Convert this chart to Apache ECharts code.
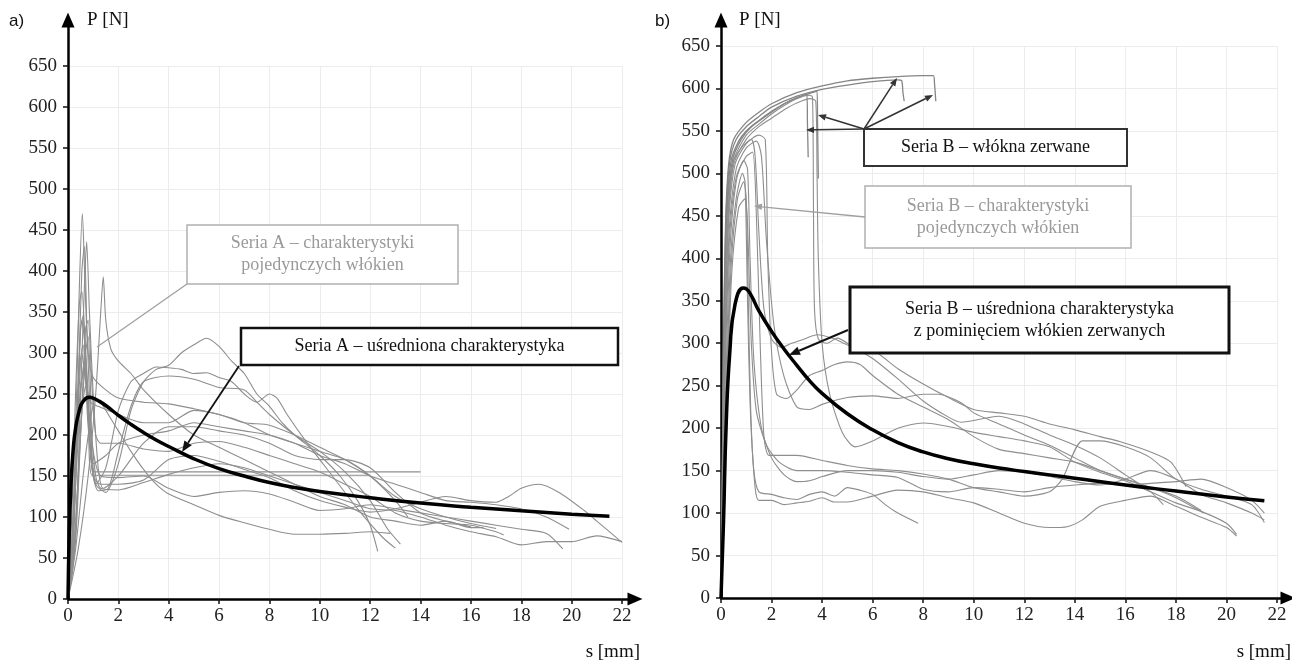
<!DOCTYPE html>
<html>
<head>
<meta charset="utf-8">
<script src="https://cdn.jsdelivr.net/npm/echarts@6/dist/echarts.min.js"></script>
<style>
  html, body { margin: 0; padding: 0; background: #fff; }
  #chart { width: 1292px; height: 663px; }
</style>
</head>
<body>
<div id="chart"></div>
<script>
// ticks
const xTicks = [0, 2, 4, 6, 8, 10, 12, 14, 16, 18, 20, 22];
const yTicks = [0, 50, 100, 150, 200, 250, 300, 350, 400, 450, 500, 550, 600, 650];

// ---- seria A: single fibres [s mm, P N]
const fibreA1 = [[0,0],[0.15,60],[0.3,200],[0.45,380],[0.57,470],[0.68,380],[0.8,300],[1.0,270],[1.5,255],[2,245],[3,240],[4,238],[5,232],[6,225],[7,215],[8,212],[9,200],[10,185],[11,170],[12,150],[13,125],[14,110],[15,100],[16,92],[17,86]];
const fibreA2 = [[0,0],[0.2,50],[0.4,250],[0.55,400],[0.65,430],[0.75,330],[0.9,220],[1.1,150],[1.3,135],[2,133],[3,142],[4,152],[5,160],[6,165],[7,160],[8,150],[9,140],[10,130],[11,120],[12,110],[13,108],[14,100],[15,90],[16,82],[17,76],[18,66],[19,70],[20,70],[21,77],[22,70]];
const fibreA3 = [[0,0],[0.3,80],[0.5,250],[0.65,380],[0.74,436],[0.85,350],[1.0,250],[1.2,160],[1.4,135],[2,150],[3,190],[4,210],[5,210],[6,205],[7,200],[8,190],[9,175],[10,170],[11,170],[12,160],[13,130],[14,105],[15,95],[16,88]];
const fibreA4 = [[0,0],[0.4,60],[0.8,150],[1.1,250],[1.3,350],[1.4,393],[1.5,340],[1.7,305],[2,290],[2.5,275],[3,255],[4,225],[5,200],[6,185],[7,170],[8,155],[9,140],[10,125],[11,115],[12,100],[13,95],[14,90],[15,95],[16,87],[16.5,87]];
const fibreA5 = [[0,0],[0.2,100],[0.4,260],[0.55,340],[0.7,300],[0.9,200],[1.1,140],[1.5,130],[2,165],[2.5,230],[3,265],[3.5,280],[4,285],[4.5,300],[5,310],[5.5,318],[6,308],[6.5,290],[7,275],[7.5,250],[8,235],[8.5,215],[9,200],[10,175],[10.8,150],[11.5,120],[12,90],[12.3,58]];
const fibreA6 = [[0,0],[0.15,100],[0.3,250],[0.45,360],[0.55,375],[0.7,300],[0.9,180],[1.1,140],[1.5,160],[2,230],[2.5,265],[3,275],[3.5,283],[4,282],[4.5,280],[5,275],[5.5,276],[6,270],[6.5,265],[7,250],[7.5,240],[8,250],[8.3,245],[8.7,225],[9.5,190],[10.5,150],[11.5,110],[12.5,75],[13,62]];
const fibreA7 = [[0,0],[0.2,70],[0.35,200],[0.5,330],[0.6,345],[0.75,250],[0.95,160],[1.2,132],[1.6,135],[2,180],[2.5,235],[3,265],[4,272],[5,268],[6,258],[7,255],[7.5,240],[8,225],[9,200],[10,180],[11,155],[12,120],[12.7,85],[13.2,67]];
const fibreA8 = [[0,0],[0.3,90],[0.5,200],[0.7,300],[0.8,320],[0.9,250],[1.0,155],[2,155],[4,155],[6,155],[8,155],[10,155],[12,155],[14,155]];
const fibreA9 = [[0,0],[0.2,80],[0.5,250],[0.65,290],[0.8,230],[0.95,151],[3,151],[6,151],[9,151],[12,151]];
const fibreA10 = [[0,0],[0.3,60],[0.6,150],[0.9,220],[1.1,245],[1.3,240],[1.6,225],[2,205],[2.5,180],[3,158],[3.5,140],[4,128],[5,115],[6,102],[7,93],[8,85],[9,79],[10,79],[11,80],[12,82],[12.8,80]];
const fibreA11 = [[0,0],[0.25,120],[0.45,280],[0.6,310],[0.75,250],[1.0,180],[1.3,150],[2,148],[3,150],[4,135],[5,125],[6,130],[7,132],[8,128],[9,118],[10,108],[11,110],[12,115],[13,110],[14,105],[15,100],[16,95],[17,90],[18,85],[19,80],[19.65,61]];
const fibreA12 = [[0,0],[0.2,40],[0.4,150],[0.55,230],[0.7,260],[0.85,200],[1.0,150],[1.3,140],[2,140],[3,145],[4,170],[5,175],[6,168],[7,158],[8,148],[9,132],[10,120],[11,112],[12,106],[13,110],[14,118],[15,125],[16,120],[17,118],[17.5,125],[18,135],[18.7,140],[19.5,130],[20.5,108],[21,95],[22,69]];
const fibreA13 = [[0,0],[0.15,50],[0.35,180],[0.5,260],[0.65,280],[0.8,210],[1.0,165],[1.5,175],[2,190],[3,200],[4,205],[5,215],[6,210],[7,205],[8,200],[9,190],[10,175],[11,165],[12,150],[13,140],[14,130],[15,120],[16,118],[17,115],[18,110],[19,100],[19.9,85]];
const fibreA14 = [[0,0],[0.3,70],[0.5,200],[0.7,330],[0.8,340],[0.95,260],[1.1,200],[1.3,190],[2,190],[3,183],[4,180],[5,190],[6,192],[7,185],[8,175],[9,165],[10,155],[11,140],[12,125],[13,105],[14,95],[15,92],[16,90],[17,82],[17.3,78]];
const fibreA15 = [[0,0],[0.2,90],[0.4,230],[0.55,300],[0.7,265],[0.9,240],[1.2,235],[2,225],[3,215],[4,215],[5,230],[6,225],[7,215],[8,200],[9,190],[10,180],[11,170],[12,150],[13,120],[13.5,100]];
const averageA = [[0,0],[0.05,80],[0.12,140],[0.2,180],[0.3,208],[0.45,230],[0.6,241],[0.85,246],[1.0,245],[1.25,241],[1.5,236],[2,224],[2.5,213],[3,203],[3.5,194],[4,186],[5,171],[6,159],[7,150],[8,142],[9,136],[10,131],[12,123.5],[14,117],[16,112],[18,107.5],[20,103.5],[21.5,101]];

// ---- seria B: broken fibres
const brokenB1 = [[0,0],[0.05,140],[0.1,300],[0.18,440],[0.3,510],[0.5,540],[1,560],[1.5,572],[2,582],[3,595],[4,603],[5,609],[6,612],[7,614],[8,615],[8.4,615],[8.45,605],[8.5,585]];
const brokenB2 = [[0,0],[0.05,130],[0.1,290],[0.2,450],[0.35,515],[0.6,540],[1,555],[1.5,567],[2,578],[3,591],[4,599],[5,604],[6,608],[7,610],[7.15,609],[7.2,595],[7.25,585]];
const brokenB3 = [[0,0],[0.05,120],[0.12,300],[0.22,450],[0.4,515],[0.7,538],[1,550],[1.5,562],[2,573],[2.5,582],[3,589],[3.4,593],[3.42,560],[3.45,519]];
const brokenB4 = [[0,0],[0.06,130],[0.13,300],[0.24,450],[0.45,515],[0.8,540],[1.2,555],[1.8,568],[2.5,582],[3,589],[3.5,594],[3.8,597],[3.82,560],[3.85,494]];

// ---- seria B: single fibres
const fibreB1 = [[0,0],[0.06,120],[0.14,300],[0.25,440],[0.45,510],[0.8,530],[1.2,540],[1.35,520],[1.5,430],[1.7,340],[2,305],[2.4,295],[2.8,300],[3.3,305],[3.8,310],[4.5,305],[5,298],[6,292],[7,270],[8,252],[9,236],[10,222],[11,218],[12,214],[13,205],[14,198],[15,190],[15.8,184],[17,172],[17.8,160],[18.4,131]];
const fibreB2 = [[0,0],[0.06,120],[0.14,290],[0.26,440],[0.5,515],[1,545],[1.5,558],[2,570],[2.5,580],[3,588],[3.5,592],[3.62,590],[3.66,450],[3.7,340],[3.85,305],[4.2,300],[4.6,306],[5.2,296],[6,282],[7,258],[8,232],[9,213],[9.5,207],[10.5,212],[11,214],[12,205],[13,192],[14,180],[15,165],[16,145],[17,125],[17.5,110]];
const fibreB3 = [[0,0],[0.07,120],[0.15,290],[0.28,440],[0.5,510],[1,540],[1.5,555],[2,565],[2.5,575],[3,583],[3.55,588],[3.75,585],[3.8,500],[3.85,400],[4,300],[4.3,240],[4.8,195],[5.3,178],[6,185],[7,200],[8,206],[9,202],[10,195],[11,190],[12,185],[13,178],[14,160],[15,148],[16,138],[17,125],[18,112],[19,102],[20,88],[20.4,75]];
const fibreB4 = [[0,0],[0.07,110],[0.15,280],[0.3,440],[0.55,510],[1,535],[1.5,545],[1.75,540],[1.85,400],[2,290],[2.2,240],[2.6,235],[3,245],[3.5,262],[4,268],[4.5,275],[5,278],[5.5,275],[6,262],[7,240],[8,225],[9,210],[10,190],[11,175],[12,170],[13,165],[14,160],[15,150],[16,140],[17,130],[18,120],[19,103]];
const fibreB5 = [[0,0],[0.08,110],[0.17,280],[0.32,430],[0.6,505],[1,530],[1.4,538],[1.6,520],[1.8,420],[2.1,320],[2.5,260],[3,225],[3.5,222],[4,228],[5,236],[6,238],[7,235],[8,240],[8.6,240],[9.5,230],[10,218],[11,205],[12,192],[13,180],[14,165],[15,150],[16,140],[17,130],[18,118],[19.1,100]];
const fibreB6 = [[0,0],[0.08,110],[0.17,270],[0.33,420],[0.6,495],[1,520],[1.25,525],[1.4,450],[1.55,300],[1.7,190],[1.9,168],[2.5,168],[3,168],[4,162],[5,156],[6,152],[7,150],[8,146],[9,140],[10,130],[11,125],[12,120],[13,125],[13.5,140],[14.3,185],[15,185],[16,178],[17,165],[18,140],[19,128],[20,120],[21,110],[21.5,89]];
const fibreB7 = [[0,0],[0.1,100],[0.2,260],[0.35,410],[0.6,490],[0.9,515],[1.05,505],[1.15,400],[1.3,280],[1.6,200],[2,165],[2.5,145],[3,137],[3.5,138],[4,143],[5,150],[6,150],[7,148],[8,143],[9,140],[10,145],[11,150],[12,148],[13,143],[14,137],[15,133],[16,140],[17,150],[18,140],[19,122],[20,112],[21,100],[21.5,92]];
const fibreB8 = [[0,0],[0.1,100],[0.22,250],[0.38,400],[0.6,470],[0.85,500],[0.95,490],[1.05,350],[1.15,230],[1.3,150],[1.5,125],[2,122],[2.5,118],[3,116],[3.5,122],[4,125],[4.5,120],[5,130],[5.5,127],[6,122],[6.5,110],[7,100],[7.8,88]];
const fibreB9 = [[0,0],[0.1,90],[0.23,240],[0.4,390],[0.65,470],[0.9,490],[1.0,470],[1.1,320],[1.2,200],[1.35,130],[1.5,115],[2,115],[2.5,110],[3,112],[3.5,114],[4,118],[4.5,113],[5,113],[6,120],[7,127],[8,125],[9,118],[10,112],[11,100],[12,88],[13,83],[13.7,84],[14.3,92],[15,108],[16,115],[17,120],[18,108],[19,95],[20,83],[20.4,73]];
const fibreB10 = [[0,0],[0.12,90],[0.25,230],[0.42,380],[0.7,460],[0.95,470],[1.05,440],[1.2,300],[1.4,220],[1.8,180],[2.3,160],[3,150],[4,150],[5,148],[6,145],[7,142],[8,128],[9,125],[10,130],[11,128],[12,125],[13,130],[14,133],[15,135],[16,133],[17,135],[18,137],[19,140],[20,130],[21,115],[21.5,100]];
const averageB = [[0,0],[0.1,90],[0.2,200],[0.35,290],[0.55,345],[0.88,365],[1.0,364],[1.2,356],[1.5,338],[2,314],[2.5,293],[3,274],[3.5,256],[4,241],[5,217],[6,198],[7,183],[8,172],[9,164],[10,158],[11,153],[12,149],[13,145],[14,141],[16,133],[18,126],[20,119],[21.5,114.6]];

const fibresA = [fibreA1, fibreA2, fibreA3, fibreA4, fibreA5, fibreA6, fibreA7, fibreA8, fibreA9, fibreA10, fibreA11, fibreA12, fibreA13, fibreA14, fibreA15];
const fibresB = [fibreB1, fibreB2, fibreB3, fibreB4, fibreB5, fibreB6, fibreB7, fibreB8, fibreB9, fibreB10];
const brokenB = [brokenB1, brokenB2, brokenB3, brokenB4];

const serif = 'Liberation Serif';
const gray = '#8e8e8e';

function dataAxes(idx) {
    const x = {
        type: 'value', gridIndex: idx, min: 0, max: 22, interval: 2,
        axisLine: { show: false },
        axisTick: { show: true, length: 5, lineStyle: { color: '#111', width: 1.5 } },
        axisLabel: { fontFamily: serif, fontSize: 19, color: '#222', margin: 8,
            formatter: v => xTicks.includes(v) ? String(v) : '' },
        splitLine: { show: true, lineStyle: { color: '#ececec', width: 1 } }
    };
    const y = {
        type: 'value', gridIndex: idx, min: 0, max: 650, interval: 50,
        axisLine: { show: false },
        axisTick: { show: true, length: 5, lineStyle: { color: '#111', width: 1.5 } },
        axisLabel: { fontFamily: serif, fontSize: 19, color: '#222', margin: 11,
            formatter: v => yTicks.includes(v) ? String(v) : '' },
        splitLine: { show: true, lineStyle: { color: '#ececec', width: 1 } }
    };
    return [x, y];
}

function arrowAxes(idx) {
    const line = { show: true, symbol: ['none', 'triangle'], symbolSize: [13, 15],
        lineStyle: { color: '#000', width: 2.5 } };
    return [
        { type: 'value', gridIndex: idx, min: 0, max: 1, axisLine: line,
          axisTick: { show: false }, axisLabel: { show: false }, splitLine: { show: false } },
        { type: 'value', gridIndex: idx, min: 0, max: 1, axisLine: line,
          axisTick: { show: false }, axisLabel: { show: false }, splitLine: { show: false } }
    ];
}

const [xA, yA] = dataAxes(0);
const [xB, yB] = dataAxes(1);
const [xA2, yA2] = arrowAxes(2);
const [xB2, yB2] = arrowAxes(3);

function lineSeries(data, xi, color, width, smooth) {
    return { type: 'line', data: data, xAxisIndex: xi, yAxisIndex: xi,
        showSymbol: false, symbol: 'none', smooth: smooth, silent: true,
        lineStyle: { color: color, width: width }, z: width > 2 ? 5 : 2 };
}

const series = [];
fibresA.forEach(d => series.push(lineSeries(d, 0, gray, 1.1, 0.25)));
series.push(lineSeries(averageA, 0, '#000', 3.5, 0.5));
brokenB.forEach(d => series.push(lineSeries(d, 1, '#858585', 1.3, 0.25)));
fibresB.forEach(d => series.push(lineSeries(d, 1, gray, 1.1, 0.25)));
series.push(lineSeries(averageB, 1, '#000', 3.5, 0.5));

// annotation helpers
function arrow(x1, y1, x2, y2, color, w, head) {
    const a = Math.atan2(y2 - y1, x2 - x1);
    const L = head || 9, W = (head || 9) * 0.4;
    const bx = x2 - L * Math.cos(a), by = y2 - L * Math.sin(a);
    return [
        { type: 'line', shape: { x1: x1, y1: y1, x2: bx, y2: by }, style: { stroke: color, lineWidth: w }, z: 100 },
        { type: 'polygon', shape: { points: [[x2, y2],
            [bx + W * Math.sin(a), by - W * Math.cos(a)],
            [bx - W * Math.sin(a), by + W * Math.cos(a)]] }, style: { fill: color }, z: 100 }
    ];
}
function box(x, y, w, h, lines, color, border, bw) {
    const items = [{ type: 'rect', shape: { x: x, y: y, width: w, height: h },
        style: { fill: '#fff', stroke: border, lineWidth: bw }, z: 90 }];
    const lh = 22;
    const y0 = y + h / 2 - (lines.length - 1) * lh / 2;
    lines.forEach((t, i) => items.push({ type: 'text', x: x + w / 2, y: y0 + i * lh, z: 95,
        style: { text: t, fill: color, font: '18px "Liberation Serif"', align: 'center', verticalAlign: 'middle' } }));
    return items;
}
function label(x, y, t, font, align) {
    return { type: 'text', x: x, y: y, z: 95,
        style: { text: t, fill: '#111', font: font, align: align || 'left', verticalAlign: 'middle' } };
}

const graphics = [].concat(
    label(9, 21, 'a)', '17px "Liberation Sans"'),
    label(87, 20, 'P [N]', '19px "Liberation Serif"'),
    label(640, 652, 's [mm]', '19px "Liberation Serif"', 'right'),
    label(655, 21, 'b)', '17px "Liberation Sans"'),
    label(739, 20, 'P [N]', '19px "Liberation Serif"'),
    label(1291, 652, 's [mm]', '19px "Liberation Serif"', 'right'),
    // panel a
    [{ type: 'line', shape: { x1: 187, y1: 284, x2: 97, y2: 347 }, style: { stroke: '#a0a0a0', lineWidth: 1.3 }, z: 100 }],
    box(187, 225, 271, 59, ['Seria A \u2013 charakterystyki', 'pojedynczych w\u0142\u00f3kien'], '#9a9a9a', '#b0b0b0', 1.5),
    arrow(239, 366, 182, 452, '#111', 1.8, 11),
    box(241, 328, 377, 37, ['Seria A \u2013 u\u015bredniona charakterystyka'], '#111', '#111', 2.5),
    // panel b
    arrow(864, 129, 806, 130, '#333', 1.5, 8),
    arrow(864, 129, 818, 115, '#333', 1.5, 8),
    arrow(864, 129, 897, 78, '#333', 1.5, 8),
    arrow(864, 129, 933, 95, '#333', 1.5, 8),
    box(864, 129, 263, 37, ['Seria B \u2013 w\u0142\u00f3kna zerwane'], '#111', '#333', 2),
    arrow(865, 217, 754, 206, '#a0a0a0', 1.3, 8),
    box(865, 186, 266, 62, ['Seria B \u2013 charakterystyki', 'pojedynczych w\u0142\u00f3kien'], '#9a9a9a', '#b0b0b0', 1.5),
    arrow(848, 330, 789, 355, '#111', 2, 11),
    box(850, 287, 379, 66, ['Seria B \u2013 u\u015bredniona charakterystyka', 'z pomini\u0119ciem w\u0142\u00f3kien zerwanych'], '#111', '#111', 3)
);

const chart = echarts.init(document.getElementById('chart'), null, { renderer: 'canvas' });
chart.setOption({
    animation: false,
    backgroundColor: '#fff',
    grid: [
        { left: 68, top: 66, right: 670, bottom: 64 },
        { left: 721, top: 46, right: 15, bottom: 65 },
        { left: 68, top: 20, right: 657, bottom: 64 },
        { left: 721, top: 20, right: 4, bottom: 65 }
    ],
    xAxis: [xA, xB, xA2, xB2],
    yAxis: [yA, yB, yA2, yB2],
    series: series,
    graphic: graphics
});
</script>
</body>
</html>
